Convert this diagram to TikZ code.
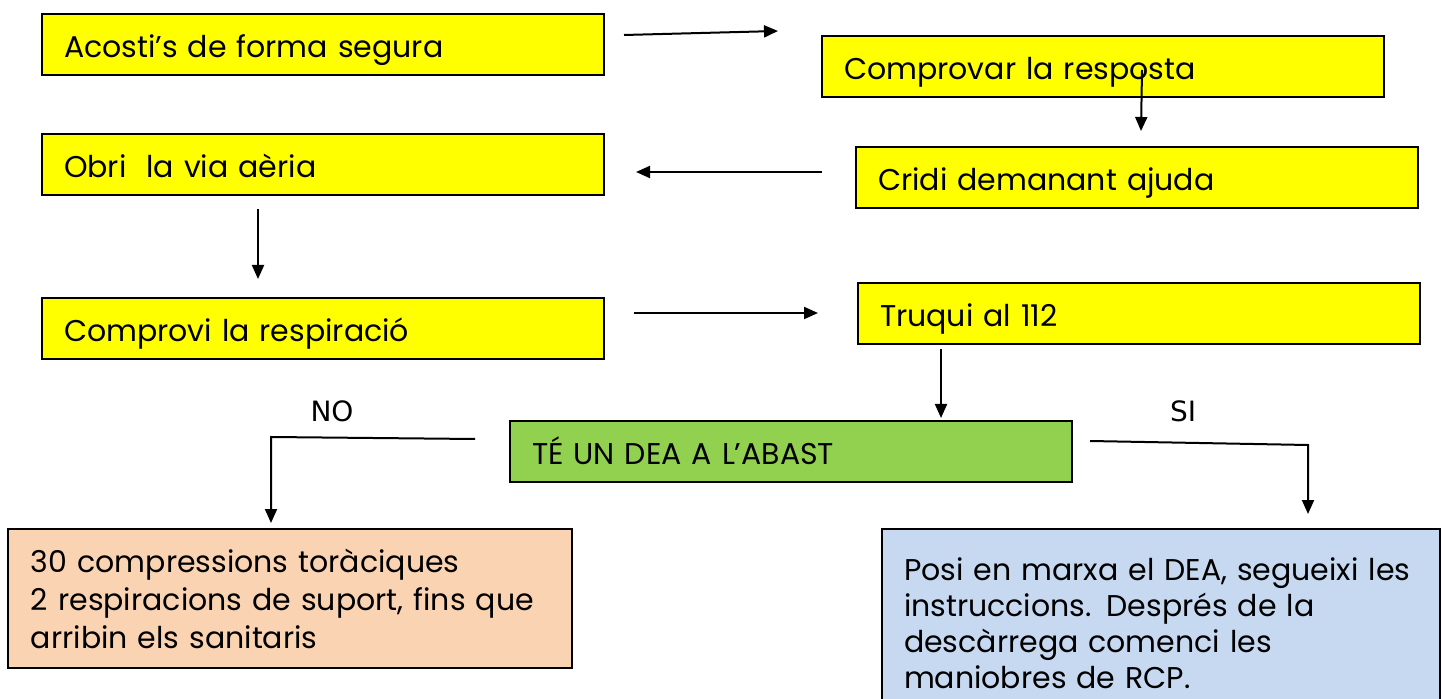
\documentclass[tikz,border=0pt]{standalone}
\usepackage{fontspec}
\usetikzlibrary{arrows.meta}
\newfontfamily\labelfont{DejaVu Sans}
\newfontfamily\gothic{Poppins}
\definecolor{boxyellow}{HTML}{FFFF00}
\definecolor{boxgreen}{HTML}{92D050}
\definecolor{boxorange}{HTML}{FAD3B2}
\definecolor{boxblue}{HTML}{C6D9F1}
\begin{document}
\begin{tikzpicture}[x=0.5pt, y=-0.5pt, line width=1pt, >={Triangle[width=6pt,length=7pt]},
	stepbox/.style={draw=black, fill=boxyellow, anchor=north west, align=left, inner xsep=11pt, inner ysep=0pt,
		minimum width=281pt, minimum height=30.5pt, text width=259pt, font=\gothic\fontsize{15}{19}\selectfont},
	oneline/.style={stepbox, text height=13.5pt, text depth=0pt},
	flow/.style={->, line cap=butt}]
	\clip (0,0) rectangle (1449,699);
	\node[oneline] (apropa) at (41,13) {Acosti’s de forma segura};
	\node[oneline] (resposta) at (821,35) {Comprovar la resposta};
	\node[oneline] (ajuda) at (855,146) {Cridi demanant ajuda};
	\node[oneline] (via) at (41,133) {Obri\ \ la via aèria};
	\node[oneline] (respira) at (41,297) {Comprovi la respiració};
	\node[oneline] (truca) at (857,282) {Truqui al 112};
	\node[oneline, fill=boxgreen] (dea) at (509,420) {TÉ UN DEA A L’ABAST};
	\node[stepbox, fill=boxorange, minimum height=69.5pt, inner xsep=11.5pt] (rcp) at (7,528)
		{30 compressions toràciques\\2 respiracions de suport, fins que\\arribin els sanitaris};
	\node[stepbox, fill=boxblue, minimum width=279pt, text width=257pt, inner ysep=14.5pt,
		font=\gothic\fontsize{15}{18}\selectfont] (posi) at (881,528)
		{Posi en marxa el DEA, segueixi les\\instruccions. Després de la\\descàrrega comenci les\\maniobres de RCP.};
	\coordinate (a1) at (624,35);	\coordinate (b1) at (778,31);
	\coordinate (a2) at (1142,70);	\coordinate (b2) at (1141,131);
	\coordinate (a3) at (822,172);	\coordinate (b3) at (636,172);
	\coordinate (a4) at (258,209);	\coordinate (b4) at (258,279);
	\coordinate (a5) at (634,313);	\coordinate (b5) at (818,313);
	\coordinate (a6) at (941,349);	\coordinate (b6) at (941,418);
	\coordinate (no1) at (475,439);	\coordinate (no2) at (271,437);	\coordinate (no3) at (271,523);
	\coordinate (si1) at (1090,441);	\coordinate (si2) at (1308,445);	\coordinate (si3) at (1308,514);
	\draw[flow] (a1)--(b1);
	\draw[flow] (a2)--(b2);
	\draw[flow] (a3)--(b3);
	\draw[flow] (a4)--(b4);
	\draw[flow] (a5)--(b5);
	\draw[flow] (a6)--(b6);
	\draw[flow] (no1)--(no2)--(no3);
	\draw[flow] (si1)--(si2)--(si3);
	\path[font=\labelfont\fontsize{14}{16}\selectfont]
	(332,411) node (nolabel) {NO}
	(1183,411) node (silabel) {SI}
	;
\end{tikzpicture}
\end{document}
